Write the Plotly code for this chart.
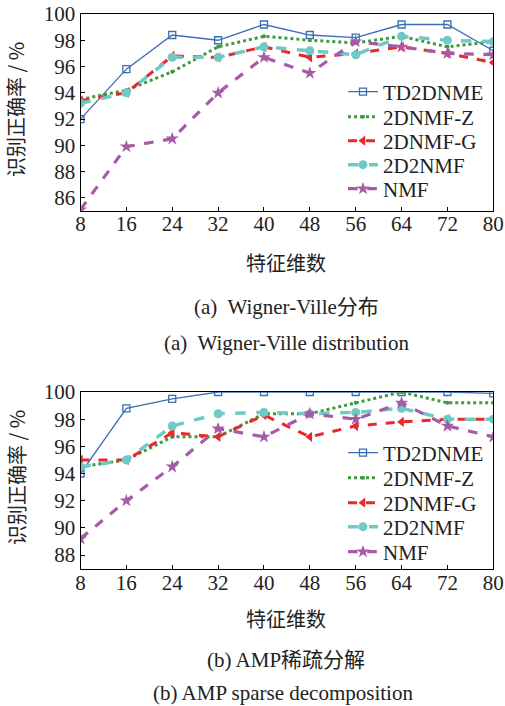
import plotly.graph_objects as go

# Feature dimensions (x axis)
dims = [8, 16, 24, 32, 40, 48, 56, 64, 72, 80]
dim_labels = ["8", "16", "24", "32", "40", "48", "56", "64", "72", "80"]

# (a) Wigner-Ville distribution: recognition accuracy (%)
wv_td2dnme = [92.0, 95.8, 98.4, 98.0, 99.2, 98.4, 98.2, 99.2, 99.2, 97.2]
wv_2dnmf_z = [93.5, 94.2, 95.6, 97.5, 98.3, 98.0, 97.8, 98.3, 97.5, 97.9]
wv_2dnmf_g = [93.4, 94.0, 96.8, 96.7, 97.5, 96.7, 97.0, 97.5, 97.0, 96.3]
wv_2d2nmf = [93.2, 94.0, 96.7, 96.7, 97.5, 97.2, 96.9, 98.3, 98.0, 97.9]
wv_nmf = [85.1, 89.9, 90.5, 94.0, 96.7, 95.5, 97.9, 97.5, 97.0, 96.9]

# (b) AMP sparse decomposition: recognition accuracy (%)
amp_td2dnme = [94.0, 98.8, 99.5, 100.0, 100.0, 100.0, 100.0, 100.0, 100.0, 99.9]
amp_2dnmf_z = [94.5, 95.0, 96.7, 96.7, 98.4, 98.4, 99.2, 100.0, 99.2, 99.2]
amp_2dnmf_g = [95.0, 95.0, 97.0, 96.7, 98.3, 96.7, 97.5, 97.8, 98.0, 98.0]
amp_2d2nmf = [94.5, 95.0, 97.5, 98.4, 98.5, 98.4, 98.5, 98.8, 98.0, 98.0]
amp_nmf = [89.2, 92.0, 94.5, 97.3, 96.7, 98.4, 98.0, 99.2, 97.5, 96.7]

series_names = ["TD2DNME", "2DNMF-Z", "2DNMF-G", "2D2NMF", "NMF"]

W, H = 505, 706
SERIF = '"Liberation Serif", "Noto Sans CJK SC", serif'
CJK = '"Noto Sans CJK SC", sans-serif'

styles = {
    "TD2DNME": dict(line=dict(color="#3b6db5", width=1.3, dash="solid"),
                    marker=dict(symbol="square-open", size=7, color="#3b6db5", line=dict(width=1.3))),
    "2DNMF-Z": dict(line=dict(color="#3f9a3f", width=3, dash="dot"),
                    marker=dict(symbol="circle", size=4, color="#3f9a3f")),
    "2DNMF-G": dict(line=dict(color="#e8282c", width=3, dash="dash"),
                    marker=dict(symbol="triangle-left", size=9, color="#e8282c")),
    "2D2NMF": dict(line=dict(color="#6fcac6", width=3.5, dash="dash"),
                   marker=dict(symbol="circle", size=9, color="#6fcac6")),
    "NMF": dict(line=dict(color="#a65aa8", width=3.2, dash="dash"),
                marker=dict(symbol="star", size=10, color="#a65aa8")),
}

def px_x(p):
    return p / W

def px_y(p):
    return 1 - p / H

fig = go.Figure()

# one single-entry legend per series and panel, stacked down the right side
legend_rows = {"": [92, 117, 141, 165, 189], "2": [453, 478, 503, 527, 552]}
legend_layout = {}
legend_index = 1

panels = [
    ("", [wv_td2dnme, wv_2dnmf_z, wv_2dnmf_g, wv_2d2nmf, wv_nmf]),
    ("2", [amp_td2dnme, amp_2dnmf_z, amp_2dnmf_g, amp_2d2nmf, amp_nmf]),
]
for suffix, data in panels:
    for row_y, name, vals in zip(legend_rows[suffix], series_names, data):
        lg = "legend" if legend_index == 1 else f"legend{legend_index}"
        fig.add_trace(go.Scatter(
            x=dims, y=vals, name=name, mode="lines+markers",
            xaxis="x" + suffix, yaxis="y" + suffix,
            legend=lg, showlegend=True, **styles[name]))
        legend_layout[lg] = dict(
            x=px_x(343), y=px_y(row_y), xanchor="left", yanchor="middle",
            bgcolor="rgba(0,0,0,0)", itemwidth=30,
            font=dict(family=SERIF, size=21, color="#222"))
        legend_index += 1

axis_common = dict(
    showline=True, linecolor="black", linewidth=1, mirror=True,
    ticks="inside", ticklen=4, tickcolor="black", showgrid=False, zeroline=False,
    automargin=False,
    tickfont=dict(family=SERIF, size=21, color="#222"),
)
x_common = dict(range=[8, 80], tickvals=dims, ticktext=dim_labels,
                ticklabelstandoff=-6, **axis_common)

dom_x = [px_x(80.5), px_x(493.3)]
fig.update_layout(
    xaxis=dict(domain=dom_x, anchor="y", **x_common),
    yaxis=dict(domain=[px_y(211), px_y(14)], range=[85, 100], dtick=2,
               anchor="x", **axis_common),
    xaxis2=dict(domain=dom_x, anchor="y2", **x_common),
    yaxis2=dict(domain=[px_y(569.3), px_y(392)], range=[86.95, 100], dtick=2,
                anchor="x2", **axis_common),
    **legend_layout,
)

annotations = []
def text(x, y, s, size, family, angle=0):
    annotations.append(dict(x=px_x(x), y=px_y(y), xref="paper", yref="paper",
                            text=s, showarrow=False, textangle=angle,
                            xanchor="center", yanchor="middle",
                            font=dict(family=family, size=size, color="#222")))

text(16, 110, "识别正确率 / %", 20, CJK, -90)
text(16, 478, "识别正确率 / %", 20, CJK, -90)
text(286, 262, "特征维数", 20, CJK)
text(286, 618, "特征维数", 20, CJK)
text(286, 307, "(a)  Wigner-Ville分布", 21, SERIF)
text(286, 343, "(a)  Wigner-Ville distribution", 21, SERIF)
text(286, 660, "(b) AMP稀疏分解", 21, SERIF)
text(283, 693, "(b) AMP sparse decomposition", 21, SERIF)

fig.update_layout(
    annotations=annotations,
    width=W, height=H, margin=dict(l=0, r=0, t=0, b=0),
    paper_bgcolor="white", plot_bgcolor="white",
)

fig.write_html("out.html")
